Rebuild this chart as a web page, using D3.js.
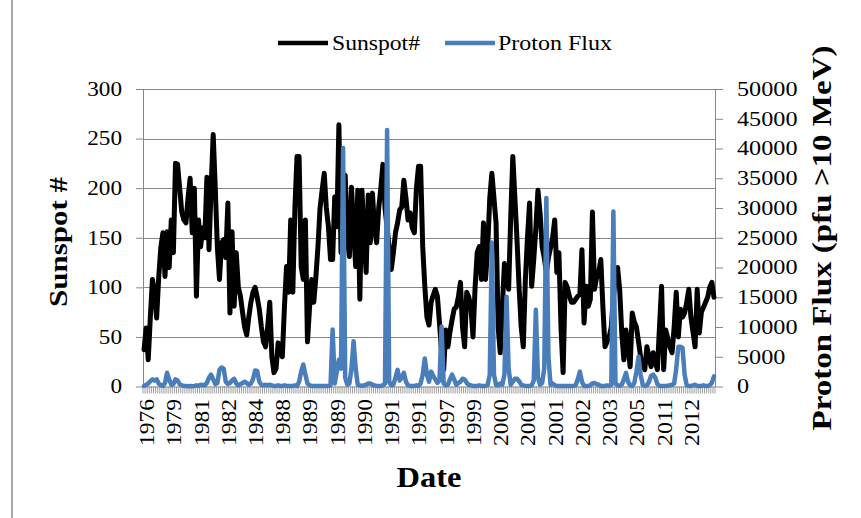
<!DOCTYPE html>
<html><head><meta charset="utf-8">
<script src="https://cdn.jsdelivr.net/npm/d3@7"></script>
<style>body{margin:0;background:#fff}svg{display:block}</style>
</head><body>
<svg id="c" width="861" height="518"></svg>
<script>
const sunspot = [
37,59,27,70,108,95,69,110,140,155,
111,156,120,168,135,225,224,200,176,168,
165,190,210,155,200,91,168,141,160,150,211,
138,200,254,200,140,108,145,148,130,185,
74,156,81,135,100,91,75,60,52,70,
85,95,100,90,78,60,45,40,60,85,
30,14,18,44,35,30,80,121,95,168,
95,180,232,232,121,108,168,45,80,108,
85,110,141,180,198,215,180,161,128,128,191,
161,264,135,170,213,150,131,201,160,121,
198,88,198,150,115,193,145,195,160,145,
180,200,224,180,160,140,118,135,155,165,
178,181,208,190,168,175,160,155,200,222,
222,141,101,70,62,85,92,98,91,64,35,
17,57,40,55,67,78,80,90,105,60,
40,95,90,80,50,100,135,141,108,165,
108,140,190,215,190,165,60,34,80,124,
110,98,170,232,190,148,100,60,40,108,
150,185,101,128,160,198,175,141,130,115,
130,140,150,168,115,135,60,14,105,100,91,
85,85,88,91,93,138,64,101,81,88,
176,98,110,115,128,80,40,45,50,60,
90,110,120,98,54,27,57,40,20,74,
65,60,45,30,20,17,40,30,20,34,
25,17,60,101,17,57,48,40,34,60,95,
50,78,70,74,85,98,70,55,40,98,
54,75,80,85,90,100,105,90
];
const protonFlux = [
100,300,500,900,1200,1000,1200,500,200,100,
600,2300,1200,300,400,1200,1000,400,200,100,
100,50,100,50,100,200,100,300,250,200,600,
1500,2000,1200,400,600,2800,3200,3000,800,400,
600,1000,1300,500,200,400,600,800,600,300,
500,1200,2700,2600,800,300,200,300,200,300,
200,100,100,200,100,100,200,100,100,100,
100,200,100,800,2500,3700,2000,500,200,100,
100,100,100,100,100,100,100,100,200,9600,500,
2500,4500,3000,40100,1500,300,500,3000,7600,3000,
300,200,100,200,300,500,500,300,200,100,
100,100,200,500,43100,800,200,300,1500,2800,
1000,1500,2300,800,200,100,100,100,200,100,
500,2000,4700,2000,800,2500,1800,1200,600,1000,10100,
500,200,300,1200,2000,1200,300,600,800,1300,
1200,600,300,200,100,100,100,200,100,100,
100,300,2000,24200,2000,300,200,500,300,2000,
15100,3000,300,800,1300,1300,900,300,200,100,
100,100,200,1000,12900,1500,300,600,3000,31700,
5000,300,500,200,100,100,100,100,100,100,100,
100,100,200,1200,2500,800,100,100,100,200,
500,600,400,300,100,100,100,200,100,300,
29400,500,200,100,300,1200,2300,800,200,100,
600,2500,5000,2000,300,100,200,800,1800,2000,
1500,400,100,100,100,100,150,200,300,500,3000,
6700,6700,6500,2000,200,100,100,200,300,100,
100,100,200,100,100,200,600,1700
];
const xTickLabels = ["1976","1979","1981","1982","1984","1988","1989","1989","1990","1991","1991",
"1997","1999","2000","2001","2001","2002","2003","2005","2011","2012"];
const labelEvery = 13;
const leftTicks = [0,50,100,150,200,250,300];
const rightTicks = [0,5000,10000,15000,20000,25000,30000,35000,40000,45000,50000];
const seriesNames = ["Sunspot#","Proton Flux"];
const colors = ["#000000","#4a7ebb"];

const FONT = "'Liberation Serif','Times New Roman',serif";
const m = {l:143, r:715, t:89, b:386.5};
const svg = d3.select("#c");
const grid = "#888888";

// outer chart border (left edge visible)
svg.append("line").attr("x1",12).attr("x2",12).attr("y1",0).attr("y2",518)
  .attr("stroke","#8c8c8c").attr("stroke-width",1.5);

const n = sunspot.length;
const x = d3.scaleBand().domain(d3.range(n)).range([m.l,m.r]).padding(0);
const yL = d3.scaleLinear().domain([0,300]).range([m.b,m.t]);
const yR = d3.scaleLinear().domain([0,50000]).range([m.b,m.t]);
const bw = x.bandwidth();

// gridlines
svg.append("g").selectAll("line").data(leftTicks.filter(d=>d>0)).join("line")
  .attr("x1",m.l).attr("x2",m.r).attr("y1",d=>Math.round(yL(d))+0.5).attr("y2",d=>Math.round(yL(d))+0.5)
  .attr("stroke",grid).attr("stroke-width",1);

// left axis
const gL = svg.append("g").attr("transform",`translate(${m.l},0)`)
  .call(d3.axisLeft(yL).tickValues(leftTicks).tickFormat(d3.format("d")).tickSize(7).tickPadding(14).tickSizeOuter(0));
gL.select(".domain").attr("stroke",grid);
gL.selectAll(".tick line").attr("stroke",grid);
gL.selectAll(".tick text").attr("font-family",FONT).attr("font-size",20).attr("fill","#000")
  .attr("textLength",d=>String(d).length*11.6).attr("lengthAdjust","spacingAndGlyphs");

// right axis
const gR = svg.append("g").attr("transform",`translate(${m.r},0)`)
  .call(d3.axisRight(yR).tickValues(rightTicks).tickFormat(d3.format("d")).tickSize(8).tickPadding(14).tickSizeOuter(0));
gR.select(".domain").attr("stroke",grid);
gR.selectAll(".tick line").attr("stroke",grid);
gR.selectAll(".tick text").attr("font-family",FONT).attr("font-size",20).attr("fill","#000")
  .attr("textLength",d=>String(d).length*12.1).attr("lengthAdjust","spacingAndGlyphs");

// bottom axis
svg.append("line").attr("x1",m.l).attr("x2",m.r).attr("y1",m.b+0.5).attr("y2",m.b+0.5).attr("stroke",grid);
svg.append("g").selectAll("line").data(d3.range(n+1)).join("line")
  .attr("x1",i=>m.l+i*bw).attr("x2",i=>m.l+i*bw)
  .attr("y1",m.b).attr("y2",m.b+7).attr("stroke",grid).attr("stroke-width",0.8);
svg.append("g").selectAll("text").data(xTickLabels).join("text")
  .attr("transform",(d,k)=>`translate(${x(k*labelEvery)+bw/2+3},399) rotate(-90)`)
  .attr("text-anchor","end").attr("dominant-baseline","central")
  .attr("font-family",FONT).attr("font-size",20).attr("fill","#000")
  .attr("textLength",47).attr("lengthAdjust","spacingAndGlyphs")
  .text(d=>d);

// lines
const lineS = d3.line().x((d,i)=>x(i)+bw/2).y(d=>yL(d));
const lineP = d3.line().x((d,i)=>x(i)+bw/2).y(d=>yR(d));
svg.append("path").datum(sunspot).attr("d",lineS).attr("fill","none")
  .attr("stroke",colors[0]).attr("stroke-width",5).attr("stroke-linejoin","round").attr("stroke-linecap","round");
svg.append("path").datum(protonFlux).attr("d",lineP).attr("fill","none")
  .attr("stroke",colors[1]).attr("stroke-width",4.5).attr("stroke-linejoin","round").attr("stroke-linecap","round");

// legend
const leg = [{x1:278,x2:328,tx:332,tl:88},{x1:445,x2:495,tx:498,tl:114}];
leg.forEach((l,k)=>{
  svg.append("line").attr("x1",l.x1).attr("x2",l.x2).attr("y1",43).attr("y2",43)
    .attr("stroke",colors[k]).attr("stroke-width",4.5);
  svg.append("text").attr("x",l.tx).attr("y",50).attr("font-family",FONT).attr("font-size",21)
    .attr("textLength",l.tl).attr("lengthAdjust","spacingAndGlyphs").text(seriesNames[k]);
});

// axis titles
svg.append("text").attr("transform","translate(67,242) rotate(-90)").attr("text-anchor","middle")
  .attr("font-family",FONT).attr("font-weight","bold").attr("font-size",26)
  .attr("textLength",130).attr("lengthAdjust","spacingAndGlyphs").text("Sunspot #");
svg.append("text").attr("transform","translate(831,238) rotate(-90)").attr("text-anchor","middle")
  .attr("font-family",FONT).attr("font-weight","bold").attr("font-size",27)
  .attr("textLength",385).attr("lengthAdjust","spacingAndGlyphs").text("Proton Flux (pfu >10 MeV)");
svg.append("text").attr("x",429).attr("y",487).attr("text-anchor","middle")
  .attr("font-family",FONT).attr("font-weight","bold").attr("font-size",30)
  .attr("textLength",65).attr("lengthAdjust","spacingAndGlyphs").text("Date");
</script>
</body></html>
